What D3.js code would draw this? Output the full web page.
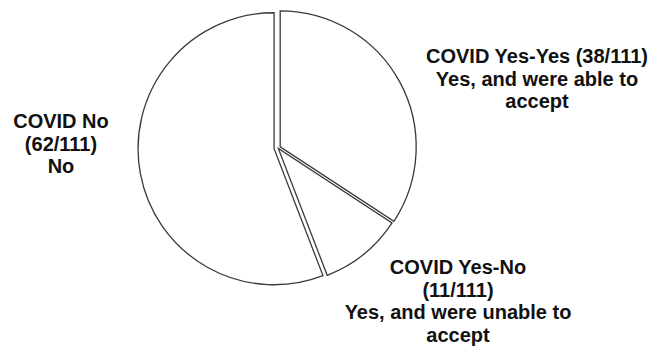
<!DOCTYPE html>
<meta charset="utf-8">
<style>
    body { margin: 0; background: #fff; }
    text { font-family: "Liberation Sans", Arial, sans-serif; font-weight: bold; fill: #111; }
</style>
<svg width="657" height="350"></svg>
<script src="https://d3js.org/d3.v7.min.js"></script>
<script>
    // slices in drawing order, clockwise from 12 o'clock
    var categories = ["COVID Yes-Yes", "COVID Yes-No", "COVID No"];
    var counts = [38, 11, 62];
    var total = 111;
    var answers = ["Yes, and were able to accept", "Yes, and were unable to accept", "No"];

    var svg = d3.select("svg"),
        cx = 278, cy = 148,
        radius = 136;

    // how far each slice is pulled out
    let explode = [2.5, 0.5, 4];

    let pie = d3.pie().sort(null).value(d => d.count);
    let arc = d3.arc().innerRadius(0).outerRadius(radius);

    let data = categories.map((c, i) => ({name: c, count: counts[i], answer: answers[i], i: i}));

    let g = svg.append("g").attr("transform", `translate(${cx},${cy})`);

    g.selectAll("path")
        .data(pie(data))
        .enter()
        .append("path")
        .attr("d", arc)
        .attr("transform", function (d) {
            let mid = (d.startAngle + d.endAngle) / 2;
            let off = explode[d.data.i];
            return `translate(${Math.sin(mid) * off},${-Math.cos(mid) * off})`;
        })
        .attr("fill", "#fff")
        .attr("stroke", "#3a3a3a")
        .attr("stroke-width", 1.3)
        .attr("stroke-linejoin", "miter");

    // label lines, placed by hand like the original
    let labels = [
        {x: 537, y: 63, lines: [data[0].name + " (" + counts[0] + "/" + total + ")", "Yes, and were able to", "accept"]},
        {x: 458, y: 274, lines: [data[1].name, "(" + counts[1] + "/" + total + ")", "Yes, and were unable to", "accept"]},
        {x: 61, y: 128, lines: [data[2].name, "(" + counts[2] + "/" + total + ")", data[2].answer]}
    ];

    labels.forEach(function (l) {
        let t = svg.append("text")
            .attr("text-anchor", "middle")
            .attr("font-size", "20px");
        l.lines.forEach(function (s, k) {
            t.append("tspan")
                .attr("x", l.x)
                .attr("y", l.y + k * 22.7)
                .text(s);
        });
    });
</script>
